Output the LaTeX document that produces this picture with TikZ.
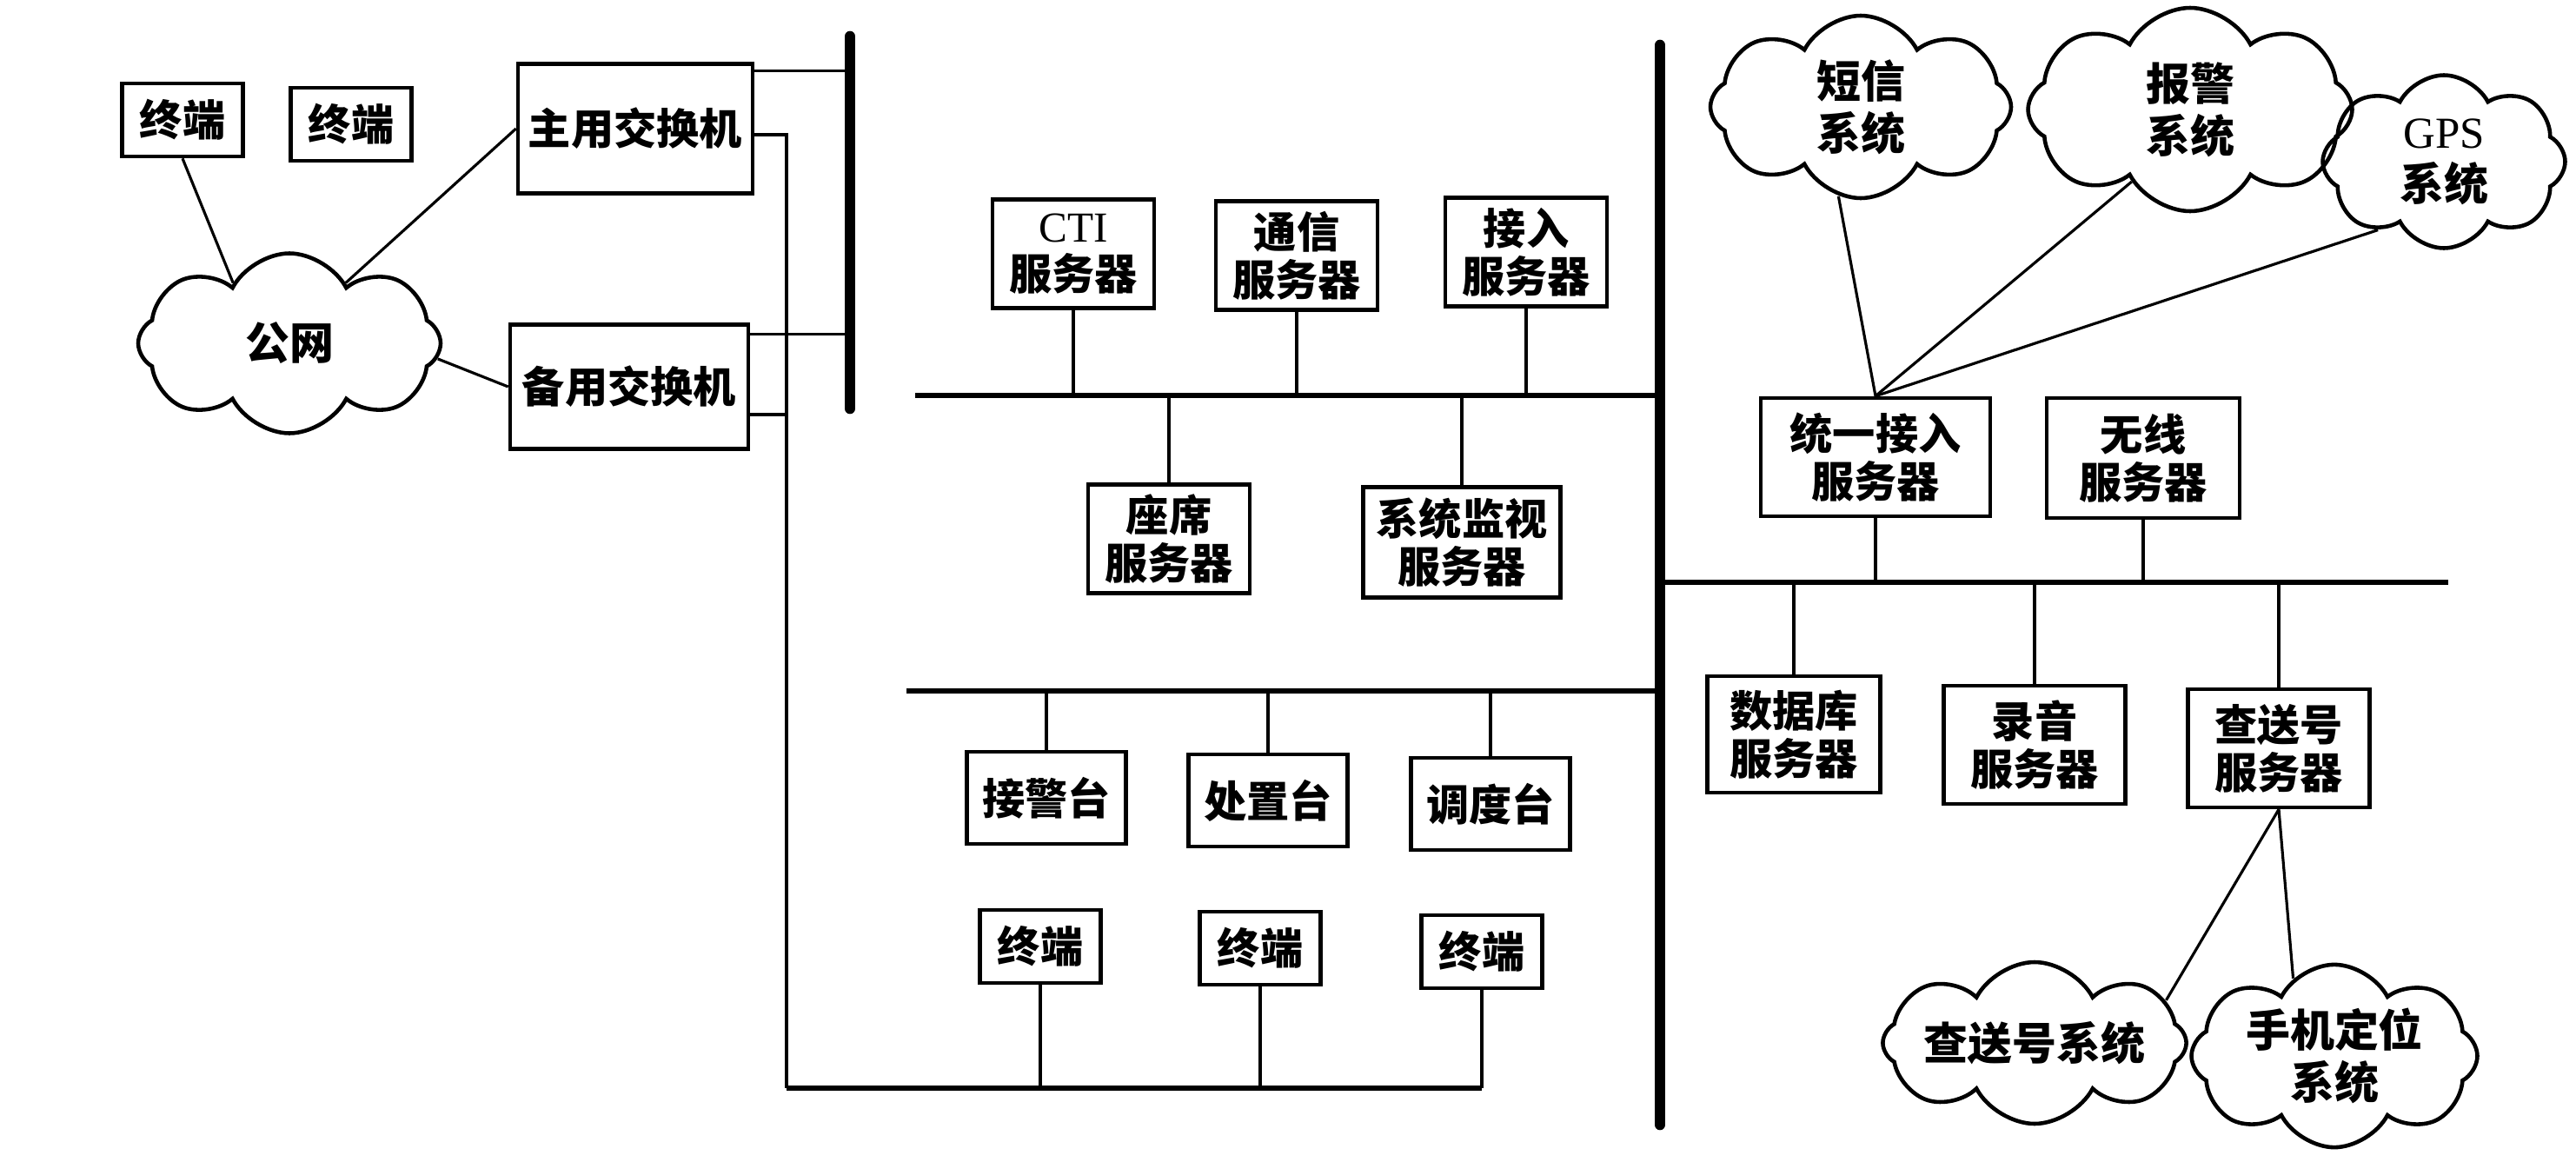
\documentclass[tikz,border=0pt]{standalone}
\usepackage{fontspec}
\setmainfont{Liberation Serif}
\newfontfamily\cjk{Noto Sans CJK SC}
\usetikzlibrary{shapes, positioning, calc}

\begin{document}
\begin{tikzpicture}[
  ubox/.style={draw, line width=1.3pt, align=center, inner sep=2pt, font=\cjk\bfseries\fontsize{14pt}{15.6pt}\selectfont},
  term/.style={ubox, minimum width=1.39cm, minimum height=0.84cm},
  desk/.style={ubox, minimum width=1.83cm, minimum height=1.06cm},
  srv/.style={ubox, minimum width=1.86cm, minimum height=1.25cm},
  ucloud/.style={cloud, cloud puffs=8, cloud puff arc=125, cloud ignores aspect, draw, line width=1.3pt, align=center, inner sep=0pt, font=\cjk\bfseries\fontsize{14.5pt}{17pt}\selectfont},
  link/.style={line width=0.9pt},
  bus/.style={line width=1.6pt},
  bar/.style={line width=3.6pt, line cap=round}
]
  \useasboundingbox (0,0) rectangle (29.64,-13.36);

  % exchange side
  \node[term] (ta) at (2.10,-1.38) {终端};
  \node[term] (tb) at (4.04,-1.43) {终端};
  \node[ubox, minimum width=2.70cm, minimum height=1.49cm] (main) at (7.31,-1.48) {主用交换机};
  \node[ubox, minimum width=2.74cm, minimum height=1.43cm] (spare) at (7.24,-4.45) {备用交换机};
  \node[ucloud, minimum width=3.48cm, minimum height=2.07cm] (pstn) at (3.33,-3.95) {公网};

  \coordinate (lbartop) at (9.78,-0.42);
  \coordinate (lbarbot) at (9.78,-4.70);
  \coordinate (feed) at (9.05,-12.52);
  \coordinate (m1) at ([yshift=-0.10cm]main.north east);
  \coordinate (m2) at ([yshift=-0.07cm]main.east);
  \coordinate (s1) at ([yshift=-0.13cm]spare.north east);
  \coordinate (s2) at ([yshift=-0.32cm]spare.east);

  % centre
  \node[srv] (cti) at (12.35,-2.92) {{\rmfamily\mdseries CTI}\\服务器};
  \node[srv] (comm) at (14.92,-2.94) {通信\\服务器};
  \node[srv] (acc) at (17.56,-2.90) {接入\\服务器};
  \node[srv] (seat) at (13.45,-6.20) {座席\\服务器};
  \node[srv, minimum width=2.27cm, minimum height=1.27cm] (mon) at (16.82,-6.24) {系统监视\\服务器};
  \node[desk] (recv) at (12.04,-9.18) {接警台};
  \node[desk] (hdl) at (14.59,-9.21) {处置台};
  \node[desk] (disp) at (17.15,-9.25) {调度台};
  \node[term] (t1) at (11.97,-10.89) {终端};
  \node[term] (t2) at (14.50,-10.91) {终端};
  \node[term] (t3) at (17.05,-10.95) {终端};

  \coordinate (mbartop) at (19.10,-0.52);
  \coordinate (mbarbot) at (19.10,-12.94);
  \coordinate (busa) at (10.53,-4.55);
  \coordinate (busb) at (10.43,-7.95);

  % right side
  \node[ucloud, minimum width=3.46cm, minimum height=2.10cm] (sms) at (21.41,-1.23) {短信\\系统};
  \node[ucloud, minimum width=3.73cm, minimum height=2.34cm] (alarm) at (25.20,-1.26) {报警\\系统};
  \node[ucloud, minimum width=2.79cm, minimum height=1.99cm] (gps) at (28.12,-1.86) {{\rmfamily\mdseries GPS}\\系统};
  \node[srv, minimum width=2.64cm, minimum height=1.36cm] (uni) at (21.58,-5.26) {统一接入\\服务器};
  \node[srv, minimum width=2.22cm, minimum height=1.38cm] (wl) at (24.66,-5.27) {无线\\服务器};
  \node[srv, minimum width=1.99cm, minimum height=1.34cm] (db) at (20.64,-8.45) {数据库\\服务器};
  \node[srv, minimum width=2.09cm, minimum height=1.36cm] (rec) at (23.41,-8.57) {录音\\服务器};
  \node[srv, minimum width=2.09cm, minimum height=1.36cm] (qs) at (26.22,-8.61) {查送号\\服务器};
  \node[ucloud, minimum width=3.26cm, minimum height=1.86cm] (qsys) at (23.41,-12.00) {查送号系统};
  \node[ucloud, minimum width=3.29cm, minimum height=1.90cm] (loc) at (26.86,-12.15) {手机定位\\系统};

  \coordinate (busc) at (28.17,-6.70);

  % bars and buses
  \draw[bar] (lbartop) -- (lbarbot);
  \draw[bar] (mbartop) -- (mbarbot);
  \draw[bus] (busa) -- (busa -| mbartop);
  \draw[bus] (busb) -- (busb -| mbartop);
  \draw[bus] (busc -| mbartop) -- (busc);
  \draw[bus] (feed) -- (t3.south |- feed);

  % links
  \draw[link] (ta.south) -- (pstn.133);
  \draw[link] (pstn.47) -- (main.west);
  \draw[link] (pstn.-6) -- (spare.west);
  \draw[link] (m1) -- (m1 -| lbartop);
  \draw[link] (s1) -- (s1 -| lbartop);
  \draw[link] (m2) -- (m2 -| feed) -- (feed);
  \draw[link] (s2) -- (s2 -| feed);

  \draw[link] (cti.south) -- (cti.south |- busa);
  \draw[link] (comm.south) -- (comm.south |- busa);
  \draw[link] (acc.south) -- (acc.south |- busa);
  \draw[link] (seat.north) -- (seat.north |- busa);
  \draw[link] (mon.north) -- (mon.north |- busa);
  \draw[link] (recv.north) -- (recv.north |- busb);
  \draw[link] (hdl.north) -- (hdl.north |- busb);
  \draw[link] (disp.north) -- (disp.north |- busb);
  \draw[link] (t1.south) -- (t1.south |- feed);
  \draw[link] (t2.south) -- (t2.south |- feed);
  \draw[link] (t3.south) -- (t3.south |- feed);

  \draw[link] (sms.256) -- (uni.north);
  \draw[link] (alarm.231) -- (uni.north);
  \draw[link] (gps.226) -- (uni.north);
  \draw[link] (uni.south) -- (uni.south |- busc);
  \draw[link] (wl.south) -- (wl.south |- busc);
  \draw[link] (db.north) -- (db.north |- busc);
  \draw[link] (rec.north) -- (rec.north |- busc);
  \draw[link] (qs.north) -- (qs.north |- busc);
  \draw[link] (qs.south) -- (qsys.18);
  \draw[link] (qs.south) -- (loc.118);
\end{tikzpicture}
\end{document}
